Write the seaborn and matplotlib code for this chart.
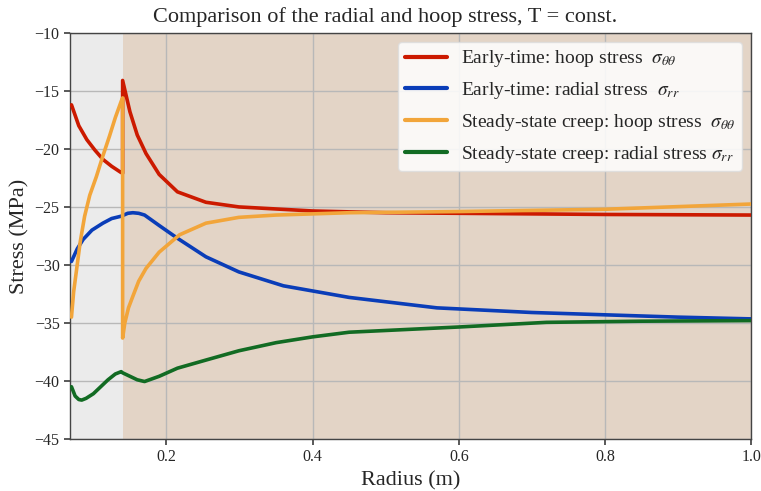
import numpy as np
import pandas as pd
import matplotlib
matplotlib.use("Agg")
import matplotlib.pyplot as plt
import seaborn as sns

# ---- data ----
r_early_hoop = [0.07, 0.08, 0.091, 0.102, 0.113, 0.125, 0.137, 0.14,
                0.14, 0.15, 0.16, 0.172, 0.19, 0.215, 0.254, 0.299, 0.4, 0.5, 0.6, 0.8, 1.0]
s_early_hoop = [-16.2, -18.0, -19.2, -20.1, -20.9, -21.5, -22.0, -22.1,
                -14.1, -16.8, -18.8, -20.4, -22.2, -23.7, -24.6, -25.0, -25.35, -25.5, -25.55, -25.65, -25.7]

r_early_rad = [0.07, 0.078, 0.086, 0.098, 0.113, 0.125, 0.138, 0.147, 0.154, 0.162, 0.17,
               0.19, 0.215, 0.254, 0.299, 0.36, 0.45, 0.57, 0.7, 0.9, 1.0]
s_early_rad = [-29.7, -28.6, -27.8, -27.0, -26.4, -26.0, -25.8, -25.55, -25.5, -25.55, -25.7,
               -26.6, -27.7, -29.3, -30.6, -31.8, -32.8, -33.7, -34.1, -34.5, -34.65]

r_ss_hoop = [0.07, 0.073, 0.077, 0.082, 0.088, 0.095, 0.104, 0.113, 0.122, 0.13, 0.138, 0.14,
             0.14, 0.143, 0.148, 0.154, 0.162, 0.172, 0.19, 0.218, 0.254, 0.299, 0.35, 0.45, 0.6, 0.8, 1.0]
s_ss_hoop = [-34.5, -32.3, -30.4, -28.0, -25.8, -24.0, -22.4, -20.6, -18.9, -17.3, -15.9, -15.6,
             -36.3, -35.0, -33.7, -32.7, -31.4, -30.3, -28.9, -27.4, -26.4, -25.9, -25.7, -25.5, -25.4, -25.2, -24.75]

r_ss_rad = [0.07, 0.075, 0.08, 0.084, 0.09, 0.1, 0.11, 0.12, 0.13, 0.138, 0.14,
            0.15, 0.16, 0.17, 0.19, 0.215, 0.254, 0.299, 0.35, 0.4, 0.45, 0.6, 0.72, 0.85, 1.0]
s_ss_rad = [-40.5, -41.3, -41.6, -41.65, -41.5, -41.1, -40.5, -39.9, -39.4, -39.2, -39.3,
            -39.6, -39.9, -40.05, -39.6, -38.9, -38.2, -37.4, -36.7, -36.2, -35.8, -35.35, -34.95, -34.85, -34.8]

labels = [r"Early-time: hoop stress  $\sigma_{\theta\theta}$",
          r"Early-time: radial stress  $\sigma_{rr}$",
          r"Steady-state creep: hoop stress  $\sigma_{\theta\theta}$",
          r"Steady-state creep: radial stress $\sigma_{rr}$"]
colors = ["#cc1a00", "#0a3db8", "#f2a53a", "#126b23"]

x_ticks = [0.2, 0.4, 0.6, 0.8, 1.0]
y_ticks = [-45, -40, -35, -30, -25, -20, -15, -10]

sns.set_theme(style="whitegrid")
plt.rcParams["font.family"] = ["Liberation Serif", "DejaVu Serif"]
plt.rcParams["mathtext.fontset"] = "stix"

fig, ax = plt.subplots(figsize=(7.61, 4.91), dpi=100)
fig.subplots_adjust(left=0.092, right=0.987, top=0.933, bottom=0.106)

ax.set_facecolor("#e3d4c6")
ax.axvspan(0.068, 0.14, color="#ebebeb", zorder=0, lw=0)

series = [(r_early_hoop, s_early_hoop), (r_early_rad, s_early_rad),
          (r_ss_hoop, s_ss_hoop), (r_ss_rad, s_ss_rad)]
for (r, s), lab, c in zip(series, labels, colors):
    df = pd.DataFrame({"r": r, "s": s})
    sns.lineplot(data=df, x="r", y="s", ax=ax, color=c, lw=2.6, label=lab,
                 sort=False, estimator=None, zorder=3)

ax.set_xlim(0.068, 1.0)
ax.set_ylim(-45, -10)
ax.set_xticks(x_ticks)
ax.set_xticklabels([f"{t:.1f}" for t in x_ticks])
ax.set_yticks(y_ticks)
ax.set_yticklabels([f"\u2212{abs(t)}" for t in y_ticks])
ax.grid(True, color="#b8b8b8", lw=1.0)
ax.tick_params(axis="both", labelsize=11.5, length=4, color="#444444", left=True, bottom=True)
for sp in ax.spines.values():
    sp.set_color("#444444")
    sp.set_linewidth(1.0)

ax.set_xlabel("Radius (m)", fontsize=16)
ax.set_ylabel("Stress (MPa)", fontsize=16)
fig.text(0.506, 0.965, "Comparison of the radial and hoop stress, T = const.",
         fontsize=16, ha="center", va="center")

leg = ax.legend(loc="upper right", fontsize=14, frameon=True, fancybox=True,
                framealpha=0.85, facecolor="white", edgecolor="#dddddd",
                handlelength=2.2, handletextpad=0.7, labelspacing=0.55,
                borderpad=0.35, borderaxespad=0.45)
for h in leg.get_lines():
    h.set_linewidth(3)

fig.savefig("out.png", dpi=100)
